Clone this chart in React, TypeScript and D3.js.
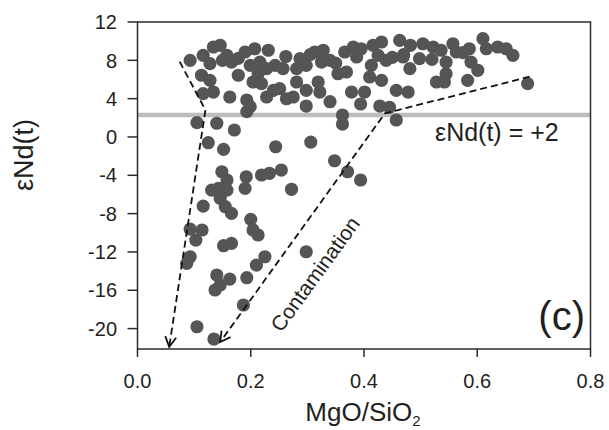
import React from "react";
import * as d3 from "d3";

// MgO/SiO2 values
const mgo: number[] = [
  0.105, 0.140, 0.171, 0.125, 0.152, 0.244, 0.306, 0.348, 0.371, 0.394,
  0.362, 0.362, 0.193, 0.199, 0.298, 0.340, 0.394, 0.428, 0.445, 0.457,
  0.149, 0.158, 0.131, 0.143, 0.146, 0.158, 0.155, 0.166, 0.116, 0.192,
  0.190, 0.219, 0.233, 0.254, 0.272, 0.200, 0.093, 0.114, 0.103, 0.093,
  0.087, 0.152, 0.166, 0.140, 0.163, 0.137, 0.146, 0.193, 0.210, 0.225,
  0.187, 0.105, 0.135, 0.298, 0.204, 0.213,
  // upper band
  0.093, 0.116, 0.134, 0.146, 0.158, 0.166, 0.128, 0.113, 0.128, 0.116,
  0.134, 0.163, 0.193, 0.178, 0.190, 0.207, 0.231, 0.199, 0.216, 0.213,
  0.228, 0.204, 0.219, 0.243, 0.257, 0.240, 0.228, 0.251, 0.263,
  0.287, 0.313, 0.328, 0.325, 0.298, 0.281, 0.281, 0.298, 0.319, 0.322,
  0.275, 0.354, 0.369, 0.366, 0.381, 0.395, 0.387, 0.416, 0.431, 0.425,
  0.439, 0.413, 0.410, 0.431, 0.463, 0.482, 0.469, 0.481, 0.378, 0.401,
  0.457, 0.478,
  0.504, 0.522, 0.498, 0.536, 0.557, 0.563, 0.586, 0.610, 0.616, 0.636,
  0.651, 0.663, 0.545, 0.545, 0.528, 0.542, 0.589, 0.601, 0.583, 0.689,
  0.340, 0.350, 0.305, 0.450, 0.470, 0.520, 0.575, 0.262, 0.178, 0.150,
];

// εNd(t) values
const end: number[] = [
  1.49, 1.43, 0.73, -0.60, -1.29, -1.02, -0.53, -2.48, -3.63, -4.49,
  2.29, 1.35, 2.64, 3.16, 3.23, 3.68, 3.44, 3.23, 3.10, 1.77,
  -3.63, -4.49, -5.54, -5.36, -6.40, -5.54, -7.28, -7.97, -7.21, -4.15,
  -5.36, -3.97, -3.79, -3.45, -5.46, -8.60, -9.61, -9.71, -10.76, -12.50,
  -13.19, -11.35, -11.10, -14.41, -14.83, -15.97, -15.45, -14.69, -13.37, -12.50,
  -17.54, -19.81, -21.09, -11.98, -9.71, -10.23,
  // upper band
  8.00, 8.52, 9.39, 9.57, 8.52, 7.82, 7.65, 6.44, 5.91, 4.52,
  4.69, 4.17, 3.86, 6.44, 8.87, 9.21, 9.05, 7.48, 7.82, 6.60,
  7.13, 5.74, 5.56, 7.48, 7.13, 4.87, 4.17, 5.04, 3.99,
  8.17, 8.87, 9.05, 7.82, 7.48, 7.13, 5.74, 4.87, 5.74, 4.69,
  4.17, 6.60, 6.78, 8.87, 9.39, 9.21, 8.35, 9.57, 9.91, 8.52,
  8.00, 7.48, 6.26, 5.91, 10.09, 9.57, 8.35, 7.13, 4.69, 4.69,
  4.87, 4.69,
  9.73, 9.39, 8.17, 9.05, 9.73, 8.87, 9.21, 10.26, 9.21, 9.39,
  9.21, 8.52, 7.82, 6.60, 5.74, 5.74, 7.82, 6.96, 5.91, 5.56,
  8.00, 7.70, 8.60, 8.30, 8.60, 8.10, 8.80, 8.40, 8.20, 8.00,
];

const xTicks: number[] = [0, 0.2, 0.4, 0.6, 0.8];
const yTicks: number[] = [12, 8, 4, 0, -4, -8, -12, -16, -20];

const refLine = 2.3;
const leftTrend: [number, number][] = [[0.0745, 7.86], [0.12, 2.81], [0.056, -21.9]];
const rightTrend: [number, number][] = [[0.6925, 6.29], [0.437, 2.47], [0.146, -21.4]];

const W = 609, H = 430;
const X0 = 137.5, X1 = 590.5, Y0 = 22, Y1 = 349;

export default function App() {
  const x = d3.scaleLinear().domain([0, 0.8]).range([X0, X1]);
  const y = d3.scaleLinear().domain([12, -22.13]).range([Y0, Y1]);
  const line = d3.line<[number, number]>().x(d => x(d[0])).y(d => y(d[1]));
  const fmt = d3.format(".1f");
  const axisColor = "#2b2b2b";
  const font = "Arial, 'Liberation Sans', sans-serif";
  const pts = mgo.map((v, i) => [v, end[i]] as [number, number]);

  return (
    <svg width={W} height={H} style={{ position: "absolute", left: 0, top: 0, background: "#fff" }} fontFamily={font}>
      <defs>
        <marker id="arr" markerUnits="userSpaceOnUse" markerWidth="24" markerHeight="24" refX="0" refY="0" viewBox="-12 -12 24 24" orient="auto">
          <path d="M-10,-5.5 L0,0 L-10,5.5" fill="none" stroke="#111" strokeWidth={1.8} />
        </marker>
      </defs>
      <line x1={X0} x2={X1} y1={y(refLine)} y2={y(refLine)} stroke="#bdbdbd" strokeWidth={4.5} />
      {pts.map((p, i) => (
        <circle key={i} cx={x(p[0])} cy={y(p[1])} r={6.6} fill="#555557" />
      ))}
      <path d={line(leftTrend) || ""} fill="none" stroke="#111" strokeWidth={1.8} strokeDasharray="7,4" markerEnd="url(#arr)" />
      <path d={line(rightTrend) || ""} fill="none" stroke="#111" strokeWidth={1.8} strokeDasharray="7,4" markerEnd="url(#arr)" />
      <rect x={X0} y={Y0} width={X1 - X0} height={Y1 - Y0} fill="none" stroke={axisColor} strokeWidth={1.5} />
      {yTicks.map(t => (
        <g key={t}>
          <line x1={X0 - 10} x2={X0} y1={y(t)} y2={y(t)} stroke={axisColor} strokeWidth={1.5} />
          <text x={117} y={y(t)} dy="0.36em" textAnchor="end" fontSize={20} fill="#231f20">{t}</text>
        </g>
      ))}
      {xTicks.map(t => (
        <g key={t}>
          <line x1={x(t)} x2={x(t)} y1={Y1} y2={Y1 + 8} stroke={axisColor} strokeWidth={1.5} />
          <text x={x(t)} y={388} textAnchor="middle" fontSize={20} fill="#231f20">{fmt(t)}</text>
        </g>
      ))}
      <text transform="translate(33,155) rotate(-90)" textAnchor="middle" fontSize={27} fill="#231f20">εNd(t)</text>
      <text x={363} y={421} textAnchor="middle" fontSize={26} fill="#231f20">
        MgO/SiO<tspan fontSize={15} dy={5}>2</tspan>
      </text>
      <text x={435} y={141} fontSize={25} fill="#231f20">εNd(t) = +2</text>
      <text x={585} y={330} textAnchor="end" fontSize={40} fill="#231f20">(c)</text>
      <text transform="translate(315,274) rotate(-54)" textAnchor="middle" dominantBaseline="central" fontSize={21} fill="#231f20">Contamination</text>
    </svg>
  );
}
